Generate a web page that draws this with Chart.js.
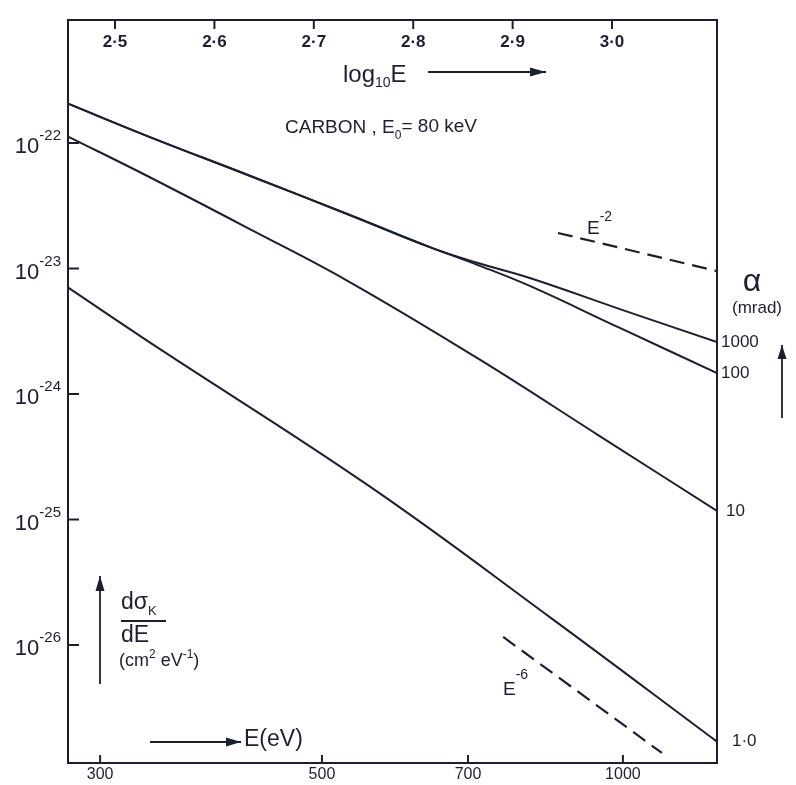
<!DOCTYPE html>
<html>
<head>
<meta charset="utf-8">
<script src="https://cdn.jsdelivr.net/npm/chart.js@4/dist/chart.umd.min.js"></script>
<style>
  html, body { margin: 0; padding: 0; background: #ffffff; }
  #wrap { position: relative; width: 796px; height: 785px; }
</style>
</head>
<body>
<div id="wrap"><canvas id="c" width="796" height="785"></canvas></div>
<script>
// ---- data ----
// energy-loss E (eV) and dσK/dE (cm² eV⁻¹) for each collection semi-angle α
const E_1000 = [279, 336, 424, 533, 641, 715, 807, 993, 1242];
const S_1000 = [2.05e-22, 1.12e-22, 5.46e-23, 2.67e-23, 1.48e-23, 1.11e-23, 8.4e-24, 4.75e-24, 2.59e-24];

const E_100 = [279, 336, 424, 533, 641, 715, 807, 993, 1242];
const S_100 = [2.05e-22, 1.12e-22, 5.46e-23, 2.67e-23, 1.48e-23, 1.07e-23, 7.26e-24, 3.36e-24, 1.47e-24];

const E_10 = [279, 336, 424, 533, 720, 948, 1242];
const S_10 = [1.12e-22, 5.36e-23, 2.05e-23, 7.8e-24, 1.87e-24, 4.62e-25, 1.17e-25];

const E_1 = [279, 336, 559, 845, 1242];
const S_1 = [7.0e-24, 2.59e-24, 1.82e-25, 1.67e-26, 1.7e-27];

// reference power-law slopes (dashed)
const E_M2 = [861, 1242];
const S_M2 = [1.92e-23, 9.54e-24];
const E_M6 = [759, 1094];
const S_M6 = [1.16e-26, 1.38e-27];

// curve end labels (α in mrad)
const ALPHA_LABELS = ["1000", "100", "10", "1·0"];

// axis ticks
const E_TICKS = [300, 500, 700, 1000];
const E_TICK_LABELS = ["300", "500", "700", "1000"];
const LOG_TICKS = [2.5, 2.6, 2.7, 2.8, 2.9, 3.0];
const LOG_TICK_LABELS = ["2·5", "2·6", "2·7", "2·8", "2·9", "3·0"];
const Y_EXPONENTS = [-22, -23, -24, -25, -26];

// axis ranges
const E_MIN = 278.6, E_MAX = 1242;
const S_MIN = Math.pow(10, -26.94), S_MAX = Math.pow(10, -21.02);
const LOGE_MIN = 2.4527, LOGE_MAX = 3.1056;

const INK = '#1b2030';
const FONT = '"Liberation Sans", Arial, sans-serif';

function pts(xs, ys) { return xs.map((x, i) => ({ x: x, y: ys[i] })); }

function curve(xs, ys, label, dx) {
  return { data: pts(xs, ys), alphaLabel: label, labelDx: dx,
    borderColor: INK, borderWidth: 2, pointRadius: 0, tension: 0.4,
    fill: false, cubicInterpolationMode: 'default' };
}
function dashed(xs, ys) {
  return { data: pts(xs, ys), borderColor: INK, borderWidth: 2.2, borderDash: [15, 8],
    pointRadius: 0, fill: false };
}

function arrow(ctx, x1, y1, x2, y2, head) {
  ctx.beginPath(); ctx.moveTo(x1, y1); ctx.lineTo(x2, y2); ctx.stroke();
  const a = Math.atan2(y2 - y1, x2 - x1);
  const L = head || 14, W = 4.5;
  ctx.beginPath();
  ctx.moveTo(x2, y2);
  ctx.lineTo(x2 - L * Math.cos(a) + W * Math.sin(a), y2 - L * Math.sin(a) - W * Math.cos(a));
  ctx.lineTo(x2 - L * Math.cos(a) - W * Math.sin(a), y2 - L * Math.sin(a) + W * Math.cos(a));
  ctx.closePath(); ctx.fill();
}

// draw a run of [text, fontSize, dy] pieces left to right
function runText(ctx, x, y, parts) {
  parts.forEach(p => {
    ctx.font = p[1] + 'px ' + FONT;
    ctx.fillText(p[0], x, y + p[2]);
    x += ctx.measureText(p[0]).width;
  });
  return x;
}

const decor = {
  id: 'decor',
  afterDraw(chart) {
    const ctx = chart.ctx;
    const { left, right, top, bottom } = chart.chartArea;
    const xs = chart.scales.x, ys = chart.scales.y, xt = chart.scales.x2;
    ctx.save();
    ctx.strokeStyle = INK; ctx.fillStyle = INK; ctx.lineWidth = 2;
    // frame
    ctx.strokeRect(left, top, right - left, bottom - top);

    // bottom axis ticks (E)
    ctx.font = '16px ' + FONT; ctx.textAlign = 'center'; ctx.textBaseline = 'middle';
    E_TICKS.forEach((v, i) => {
      const px = xs.getPixelForValue(v);
      ctx.beginPath(); ctx.moveTo(px, bottom); ctx.lineTo(px, bottom - 8); ctx.stroke();
      ctx.fillText(E_TICK_LABELS[i], px, bottom + 12);
    });
    // top axis ticks (log10 E)
    ctx.font = 'bold 17px ' + FONT;
    LOG_TICKS.forEach((v, i) => {
      const px = xt.getPixelForValue(v);
      ctx.beginPath(); ctx.moveTo(px, top); ctx.lineTo(px, top + 9); ctx.stroke();
      ctx.fillText(LOG_TICK_LABELS[i], px, top + 22);
    });
    // left axis ticks 10^n
    Y_EXPONENTS.forEach(e => {
      const py = ys.getPixelForValue(Math.pow(10, e));
      ctx.beginPath(); ctx.moveTo(left, py); ctx.lineTo(left + 11, py); ctx.stroke();
      const exp = String(e);
      ctx.font = '15px ' + FONT; ctx.textAlign = 'right';
      const ew = ctx.measureText(exp).width;
      ctx.fillText(exp, left - 7, py - 7);
      ctx.font = '22px ' + FONT;
      ctx.fillText('10', left - 7 - ew, py + 4);
    });

    // curve end labels
    ctx.font = '17px ' + FONT; ctx.textAlign = 'left'; ctx.textBaseline = 'middle';
    chart.data.datasets.forEach((ds, i) => {
      if (!ds.alphaLabel) return;
      const meta = chart.getDatasetMeta(i);
      const p = meta.data[meta.data.length - 1];
      ctx.fillText(ds.alphaLabel, right + ds.labelDx, p.y);
    });

    // alpha (mrad) heading and arrow
    ctx.textAlign = 'center';
    ctx.font = '32px ' + FONT; ctx.fillText('α', 752, 282);
    ctx.font = '17px ' + FONT; ctx.fillText('(mrad)', 757, 308);
    ctx.lineWidth = 1.8;
    arrow(ctx, 782, 418, 782, 345, 14);

    // log10 E label with arrow
    ctx.textAlign = 'left';
    runText(ctx, 343, 75, [['log', 24, 0], ['10', 14, 8], ['E', 24, 0]]);
    ctx.lineWidth = 2;
    arrow(ctx, 428, 72, 546, 72, 16);

    // CARBON title
    runText(ctx, 285, 128, [['CARBON , E', 19, 0], ['0', 12, 8], ['= 80 keV', 19, -1]]);

    // slope labels
    runText(ctx, 587, 229, [['E', 19, 0], ['-2', 14, -12]]);
    runText(ctx, 503, 690, [['E', 19, 0], ['-6', 14, -15]]);

    // y axis title  dσK/dE (cm² eV⁻¹)
    runText(ctx, 121, 603, [['dσ', 23, 0], ['K', 13, 8]]);
    ctx.lineWidth = 2;
    ctx.beginPath(); ctx.moveTo(121, 621); ctx.lineTo(166, 621); ctx.stroke();
    ctx.font = '23px ' + FONT; ctx.fillText('dE', 121, 636);
    runText(ctx, 119, 661, [['(cm', 18, 0], ['2', 12, -6], [' eV', 18, 0], ['-1', 12, -6], [')', 18, 0]]);
    ctx.lineWidth = 1.8;
    arrow(ctx, 100, 684, 100, 576, 15);

    // x axis title  → E(eV)
    arrow(ctx, 150, 742, 241, 742, 15);
    ctx.font = '23px ' + FONT; ctx.fillText('E(eV)', 244, 740);

    ctx.restore();
  }
};

new Chart(document.getElementById('c'), {
  type: 'line',
  data: {
    datasets: [
      curve(E_1000, S_1000, ALPHA_LABELS[0], 4),
      curve(E_100, S_100, ALPHA_LABELS[1], 4),
      curve(E_10, S_10, ALPHA_LABELS[2], 9),
      curve(E_1, S_1, ALPHA_LABELS[3], 15),
      dashed(E_M2, S_M2),
      dashed(E_M6, S_M6)
    ]
  },
  options: {
    responsive: false,
    animation: false,
    layout: { padding: { left: 68, right: 79, top: 20, bottom: 22 } },
    plugins: { legend: { display: false }, tooltip: { enabled: false } },
    scales: {
      x: { type: 'logarithmic', min: E_MIN, max: E_MAX, display: false },
      x2: { type: 'linear', position: 'top', min: LOGE_MIN, max: LOGE_MAX, display: false },
      y: { type: 'logarithmic', min: S_MIN, max: S_MAX, display: false }
    }
  },
  plugins: [decor]
});
</script>
</body>
</html>
